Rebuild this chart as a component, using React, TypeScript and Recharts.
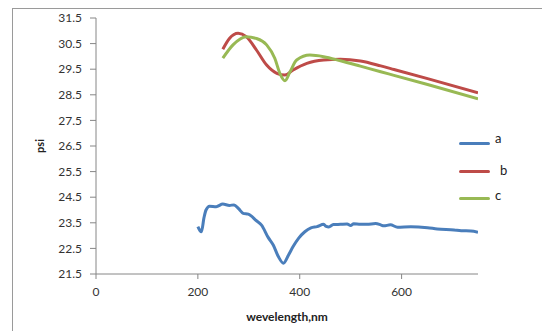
import React from 'react';
import { LineChart, Line, XAxis, YAxis, Legend } from 'recharts';

// wavelength (nm) / psi readings per sample
const aWavelength = [200, 204, 207, 212, 216, 223, 236, 249, 262, 271, 280, 289, 299, 315, 325, 338, 348, 358, 368, 378, 387, 398, 410, 422, 434, 447, 452, 457, 466, 480, 493, 500, 506, 519, 532, 549, 559, 565, 578, 592, 618, 651, 670, 703, 717, 736, 750];
const aPsi = [23.35, 23.2, 23.15, 23.7, 24.0, 24.15, 24.13, 24.23, 24.18, 24.2, 24.05, 23.87, 23.84, 23.58, 23.41, 22.93, 22.63, 22.18, 21.92, 22.24, 22.57, 22.9, 23.15, 23.3, 23.35, 23.44, 23.36, 23.34, 23.43, 23.44, 23.45, 23.39, 23.46, 23.44, 23.44, 23.47, 23.42, 23.38, 23.42, 23.33, 23.35, 23.31, 23.26, 23.22, 23.19, 23.18, 23.13];

const bWavelength = [249, 262, 279, 295, 315, 335, 355, 371, 387, 414, 447, 480, 519, 559, 585, 651, 750];
const bPsi = [30.28, 30.7, 30.9, 30.77, 30.25, 29.66, 29.34, 29.27, 29.47, 29.73, 29.86, 29.89, 29.82, 29.63, 29.49, 29.13, 28.58];

const cWavelength = [249, 269, 295, 315, 335, 351, 361, 371, 381, 394, 420, 447, 480, 519, 559, 585, 651, 750];
const cPsi = [29.93, 30.45, 30.77, 30.7, 30.45, 29.93, 29.34, 29.05, 29.4, 29.86, 30.05, 29.99, 29.83, 29.62, 29.4, 29.26, 28.9, 28.34];

const xTicks = [0, 200, 400, 600];
const yTicks = [21.5, 22.5, 23.5, 24.5, 25.5, 26.5, 27.5, 28.5, 29.5, 30.5, 31.5];

const series = [
  { name: 'a', color: '#4a7ebb', data: aWavelength.map((x, i) => ({ x, y: aPsi[i] })) },
  { name: 'b', color: '#be4b48', data: bWavelength.map((x, i) => ({ x, y: bPsi[i] })) },
  { name: 'c', color: '#98b954', data: cWavelength.map((x, i) => ({ x, y: cPsi[i] })) },
];

const FONT = 'Lato, "Open Sans", sans-serif';
const labelTop = [-3, 1.5, -1];

function LegendBox() {
  return (
    <div style={{ fontFamily: FONT, fontSize: 13, color: '#222' }}>
      {series.map((s, i) => (
        <div key={s.name} style={{ position: 'relative', height: 27.5 }}>
          <div style={{ position: 'absolute', left: 0, top: 9, width: 31, height: 3, borderRadius: 1.5, background: s.color }} />
          <span style={{ position: 'absolute', left: i === 1 ? 41 : 36, top: labelTop[i], lineHeight: '16px' }}>{s.name}</span>
        </div>
      ))}
    </div>
  );
}

export default function App() {
  return (
    <div style={{ position: 'relative', width: 542, height: 323 }}>
      <div style={{ position: 'absolute', left: 4, top: 0, width: 538, height: 323, borderTop: '1px solid #9a9a9a', borderLeft: '1px solid #9a9a9a' }} />
      <LineChart width={542} height={323} margin={{ top: 10, right: 72, bottom: 0, left: 0 }}>
        <XAxis
          type="number"
          dataKey="x"
          domain={[0, 750]}
          ticks={xTicks}
          allowDataOverflow
          height={57}
          stroke="#868686"
          tickSize={5}
          tickMargin={8}
          tick={{ fill: '#333', fontSize: 12, fontFamily: FONT }}
          label={{ value: 'wevelength,nm', position: 'insideBottom', offset: 10, style: { fontFamily: FONT, fontSize: 12, fontWeight: 'bold', fill: '#222' } }}
        />
        <YAxis
          type="number"
          domain={[21.5, 31.5]}
          ticks={yTicks}
          width={88}
          interval={0}
          stroke="#868686"
          tickSize={6}
          tickMargin={8}
          tick={{ fill: '#333', fontSize: 12, fontFamily: FONT }}
          label={{ value: 'psi', angle: -90, position: 'insideLeft', offset: 32, style: { fontFamily: FONT, fontSize: 11, fontWeight: 'bold', fill: '#222', textAnchor: 'middle' } }}
        />
        <Legend
          layout="vertical"
          align="center"
          verticalAlign="middle"
          wrapperStyle={{ left: 451, top: 125, width: 70 }}
          content={() => <LegendBox />}
        />
        {series.map((s) => (
          <Line
            key={s.name}
            data={s.data}
            dataKey="y"
            name={s.name}
            type="monotone"
            stroke={s.color}
            strokeWidth={3}
            dot={false}
            isAnimationActive={false}
          />
        ))}
      </LineChart>
    </div>
  );
}
